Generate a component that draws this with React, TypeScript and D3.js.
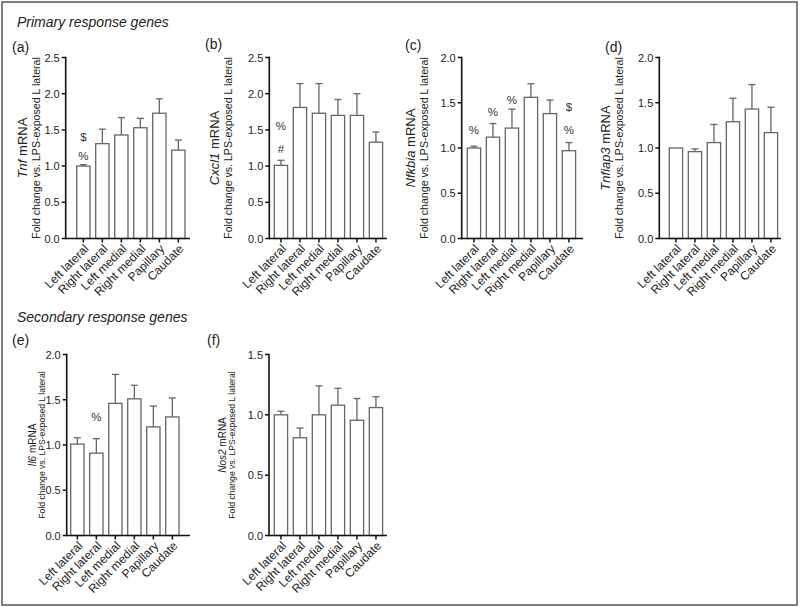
import React from "react";
import * as d3 from "d3";

const categories = ["Left lateral", "Right lateral", "Left medial", "Right medial", "Papillary", "Caudate"];

const tnfMean = [1.0, 1.31, 1.43, 1.53, 1.73, 1.22];
const tnfSem = [0.02, 0.2, 0.24, 0.13, 0.2, 0.14];
const cxcl1Mean = [1.01, 1.81, 1.73, 1.7, 1.7, 1.33];
const cxcl1Sem = [0.07, 0.33, 0.41, 0.22, 0.3, 0.14];
const nfkbiaMean = [1.0, 1.12, 1.22, 1.56, 1.38, 0.97];
const nfkbiaSem = [0.02, 0.15, 0.21, 0.15, 0.15, 0.09];
const tnfiap3Mean = [1.0, 0.96, 1.06, 1.29, 1.43, 1.17];
const tnfiap3Sem = [0, 0.03, 0.2, 0.26, 0.27, 0.28];
const il6Mean = [1.01, 0.91, 1.46, 1.51, 1.2, 1.31];
const il6Sem = [0.07, 0.16, 0.32, 0.15, 0.23, 0.21];
const nos2Mean = [1.0, 0.81, 1.0, 1.08, 0.955, 1.06];
const nos2Sem = [0.03, 0.08, 0.24, 0.14, 0.18, 0.09];

const ticks25 = [0, 0.5, 1.0, 1.5, 2.0, 2.5];
const ticks20 = [0, 0.5, 1.0, 1.5, 2.0];
const ticks15 = [0, 0.5, 1.0, 1.5];

const tnfMarks = [
  { i: 0, s: "%", v: 1.14 },
  { i: 0, s: "$", v: 1.4 },
];
const cxcl1Marks = [
  { i: 0, s: "#", v: 1.24 },
  { i: 0, s: "%", v: 1.55 },
];
const nfkbiaMarks = [
  { i: 0, s: "%", v: 1.2 },
  { i: 1, s: "%", v: 1.4 },
  { i: 2, s: "%", v: 1.53 },
  { i: 5, s: "%", v: 1.2 },
  { i: 5, s: "$", v: 1.45 },
];
const il6Marks = [{ i: 1, s: "%", v: 1.31 }];

const FONT = "'Liberation Sans', Arial, Helvetica, sans-serif";
const BAR = "#666";
const TXT = "#222";

type Mark = { i: number; s: string; v: number };
type PanelProps = {
  letter: string;
  letterX: number;
  letterY: number;
  gene: string;
  mean: number[];
  sem: number[];
  ticks: number[];
  marks: Mark[];
  axisX: number;
  top: number;
  bottom: number;
  barStart: number;
  axisEnd: number;
  geneX: number;
  foldX: number;
  geneSize: number;
  foldSize: number;
};

function Panel(p: PanelProps) {
  const yMax = p.ticks[p.ticks.length - 1];
  const y = d3.scaleLinear().domain([0, yMax]).range([p.bottom, p.top]);
  const step = 19;
  const bw = 13.3;
  const inner = 1 - bw / step;
  const x = d3
    .scaleBand<string>()
    .domain(categories)
    .range([p.barStart, p.barStart + step * (categories.length - inner)])
    .paddingInner(inner)
    .paddingOuter(0);
  const mid = (p.top + p.bottom) / 2;
  const fmt = d3.format(".1f");
  return (
    <g>
      <text x={p.letterX} y={p.letterY} fontSize={14} fill={TXT} fontFamily={FONT}>
        {p.letter}
      </text>
      {categories.map((c, i) => {
        const x0 = x(c)!;
        const cx = x0 + x.bandwidth() / 2;
        const yt = y(p.mean[i]);
        const ye = y(p.mean[i] + p.sem[i]);
        return (
          <g key={c}>
            {p.sem[i] > 0 && (
              <g stroke={BAR} strokeWidth={1.3}>
                <line x1={cx} x2={cx} y1={yt} y2={ye} />
                <line x1={cx - 3.5} x2={cx + 3.5} y1={ye} y2={ye} />
              </g>
            )}
            <rect
              x={x0}
              y={yt}
              width={x.bandwidth()}
              height={p.bottom - yt}
              fill="#fff"
              stroke={BAR}
              strokeWidth={1.3}
            />
          </g>
        );
      })}
      {p.marks.map((m, k) => {
        const c = categories[m.i];
        const cx = x(c)! + x.bandwidth() / 2;
        return (
          <text
            key={k}
            x={cx}
            y={y(m.v)}
            textAnchor="middle"
            dominantBaseline="central"
            fontSize={11.5}
            fill="#333"
            fontFamily={FONT}
          >
            {m.s}
          </text>
        );
      })}
      <line x1={p.axisX} x2={p.axisX} y1={p.top - 0.75} y2={p.bottom + 0.75} stroke="#111" strokeWidth={1.6} />
      {p.ticks.map((t) => (
        <g key={t}>
          <line x1={p.axisX - 4} x2={p.axisX} y1={y(t)} y2={y(t)} stroke="#111" strokeWidth={1.5} />
          <text
            x={p.axisX - 6}
            y={y(t)}
            textAnchor="end"
            dominantBaseline="central"
            fontSize={11}
            fill={TXT}
            fontFamily={FONT}
          >
            {fmt(t)}
          </text>
        </g>
      ))}
      <line x1={p.axisX} x2={p.axisEnd} y1={p.bottom} y2={p.bottom} stroke="#111" strokeWidth={1.6} />
      {categories.map((c) => {
        const cx = x(c)! + x.bandwidth() / 2;
        return (
          <g key={c}>
            <line x1={cx} x2={cx} y1={p.bottom} y2={p.bottom + 4} stroke="#111" strokeWidth={1.5} />
            <text
              transform={`translate(${cx + 3},${p.bottom + 8}) rotate(-45)`}
              textAnchor="end"
              dy="0.35em"
              fontSize={12}
              fill={TXT}
              fontFamily={FONT}
            >
              {c}
            </text>
          </g>
        );
      })}
      <text
        transform={`translate(${p.geneX},${mid}) rotate(-90)`}
        textAnchor="middle"
        dominantBaseline="central"
        fontSize={p.geneSize}
        fill={TXT}
        fontFamily={FONT}
      >
        <tspan fontStyle="italic">{p.gene}</tspan>
        <tspan> mRNA</tspan>
      </text>
      <text
        transform={`translate(${p.foldX},${mid}) rotate(-90)`}
        textAnchor="middle"
        dominantBaseline="central"
        fontSize={p.foldSize}
        fill={TXT}
        fontFamily={FONT}
      >
        Fold change vs. LPS-exposed L lateral
      </text>
    </g>
  );
}

export default function App() {
  const topT = 57.5;
  const topB = 238.5;
  const botT = 354.5;
  const botB = 535.5;
  return (
    <svg
      width={800}
      height={607}
      style={{ position: "absolute", left: 0, top: 0, background: "#fff" }}
    >
      <rect x={0} y={0} width={800} height={607} fill="#fff" />
      <rect x={2} y={2} width={795} height={603} fill="none" stroke="#555" strokeWidth={1.5} />
      <text x={17} y={27} fontSize={14} fontStyle="italic" fill={TXT} fontFamily={FONT}>
        Primary response genes
      </text>
      <text x={17} y={322} fontSize={14} fontStyle="italic" fill={TXT} fontFamily={FONT}>
        Secondary response genes
      </text>
      <Panel
        letter="(a)" letterX={12} letterY={52} gene="Tnf" mean={tnfMean} sem={tnfSem} ticks={ticks25} marks={tnfMarks}
        axisX={65.7} top={topT} bottom={topB} barStart={76.7} axisEnd={190} geneX={22} foldX={36} geneSize={13} foldSize={10.6}
      />
      <Panel
        letter="(b)" letterX={205} letterY={49} gene="Cxcl1" mean={cxcl1Mean} sem={cxcl1Sem} ticks={ticks25} marks={cxcl1Marks}
        axisX={269.3} top={topT} bottom={topB} barStart={274.3} axisEnd={387} geneX={214} foldX={228} geneSize={13} foldSize={10.6}
      />
      <Panel
        letter="(c)" letterX={405} letterY={50} gene="Nfkbia" mean={nfkbiaMean} sem={nfkbiaSem} ticks={ticks20} marks={nfkbiaMarks}
        axisX={461.7} top={topT} bottom={topB} barStart={467.3} axisEnd={583} geneX={410} foldX={424} geneSize={13} foldSize={10.6}
      />
      <Panel
        letter="(d)" letterX={605} letterY={52} gene="Tnfiap3" mean={tnfiap3Mean} sem={tnfiap3Sem} ticks={ticks20} marks={[]}
        axisX={659.3} top={topT} bottom={topB} barStart={669.3} axisEnd={781} geneX={605} foldX={619} geneSize={13} foldSize={10.6}
      />
      <Panel
        letter="(e)" letterX={12} letterY={345} gene="Il6" mean={il6Mean} sem={il6Sem} ticks={ticks20} marks={il6Marks}
        axisX={66.7} top={botT} bottom={botB} barStart={70.7} axisEnd={190} geneX={32} foldX={42} geneSize={10} foldSize={8.6}
      />
      <Panel
        letter="(f)" letterX={207} letterY={345} gene="Nos2" mean={nos2Mean} sem={nos2Sem} ticks={ticks15} marks={[]}
        axisX={269} top={botT} bottom={botB} barStart={274.3} axisEnd={387} geneX={222} foldX={232} geneSize={10} foldSize={8.6}
      />
    </svg>
  );
}
